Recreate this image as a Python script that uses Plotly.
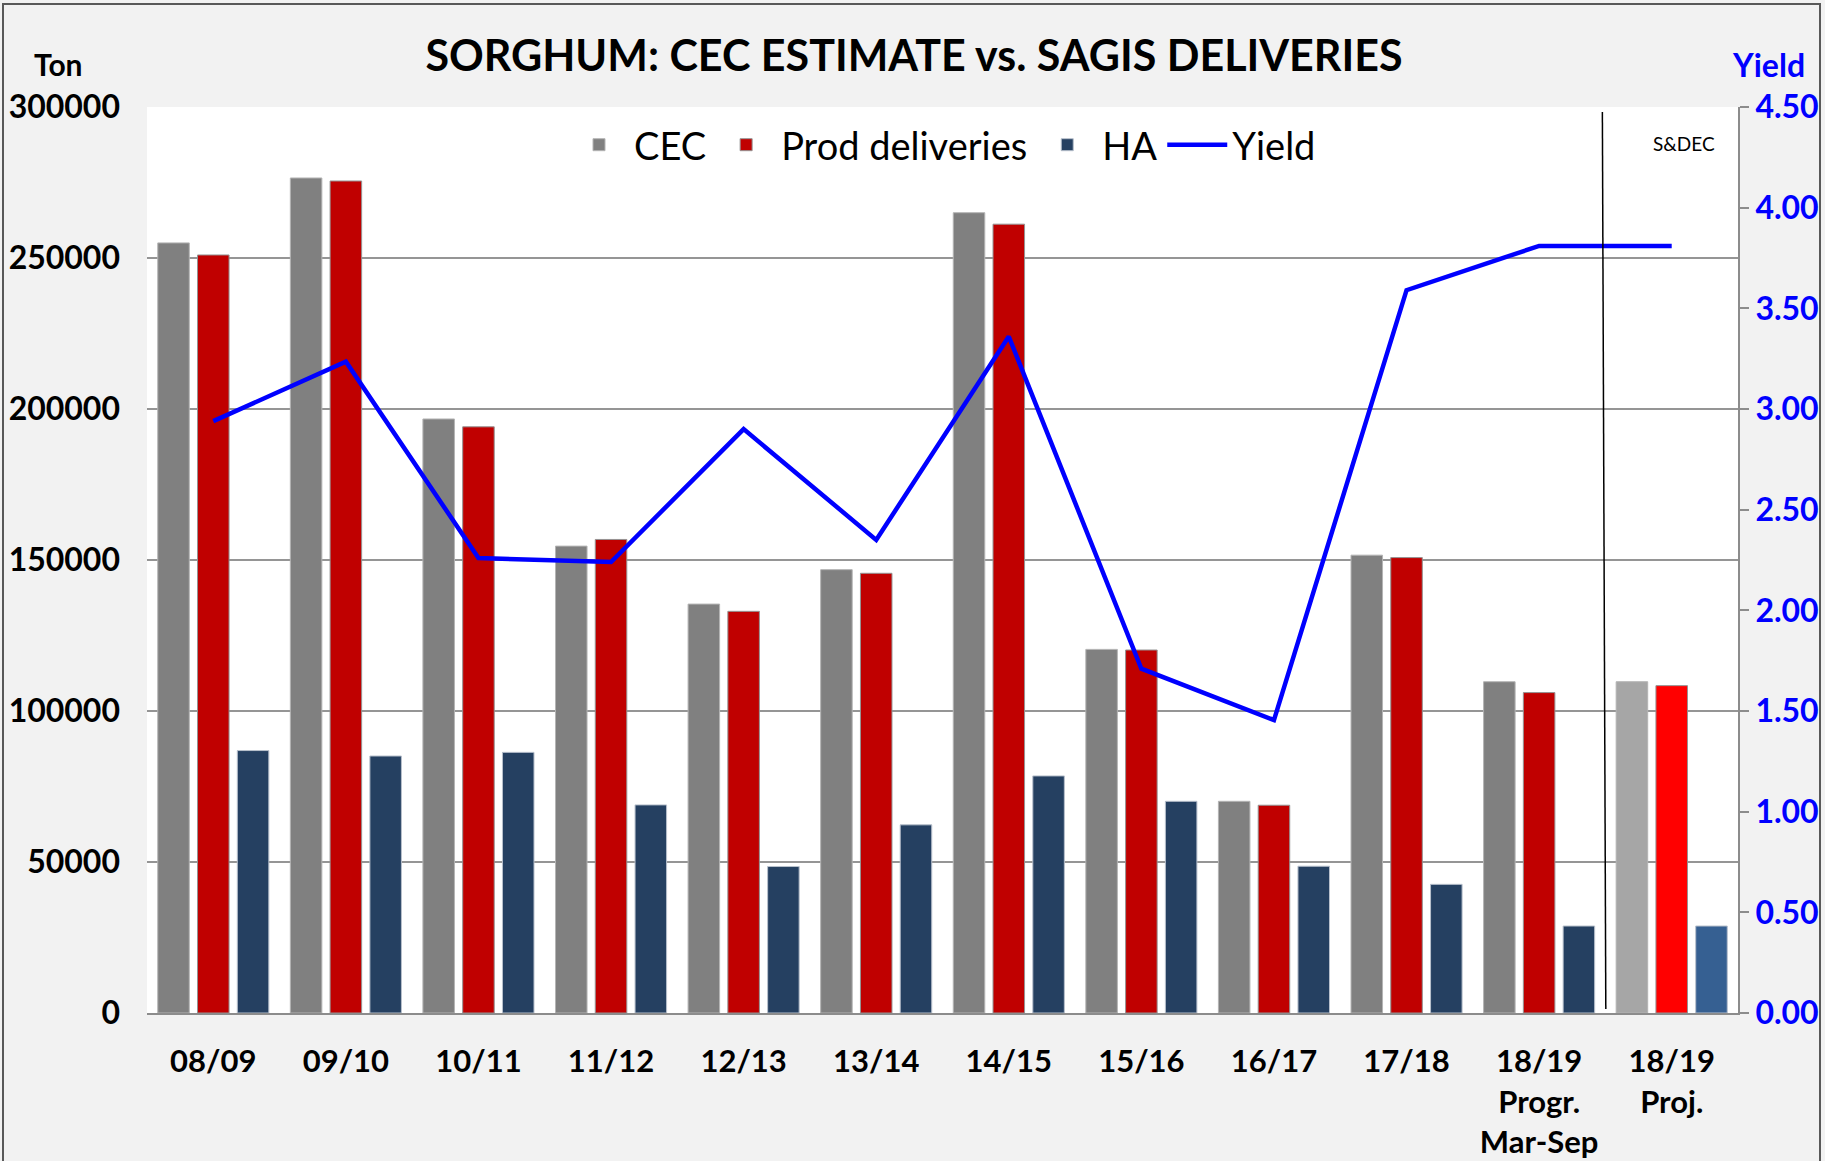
import plotly.graph_objects as go

# ---------------- data ----------------
categories = ["08/09", "09/10", "10/11", "11/12", "12/13", "13/14", "14/15",
              "15/16", "16/17", "17/18", "18/19<br>Progr.<br>Mar-Sep", "18/19<br>Proj."]
cec = [255000, 276500, 196700, 154600, 135400, 146800, 265000,
       120400, 70100, 151600, 109700, 109700]
prod_deliveries = [251000, 275500, 194100, 156800, 133000, 145600, 261200,
                   120200, 68800, 150800, 106100, 108400]
ha = [86900, 85100, 86300, 68900, 48500, 62300, 78500,
      70100, 48600, 42600, 28800, 28800]
yield_vals = [2.94, 3.235, 2.26, 2.24, 2.90, 2.35, 3.36,
              1.71, 1.455, 3.59, 3.81, 3.81]

# ---------------- styles ----------------
FONT = "Lato, 'Open Sans', sans-serif"
n = len(categories)
cec_colors = ["#808080"] * (n - 1) + ["#a6a6a6"]
prod_colors = ["#c00000"] * (n - 1) + ["#ff0000"]
ha_colors = ["#254061"] * (n - 1) + ["#366092"]

fig = go.Figure()
fig.add_trace(go.Bar(name="CEC", x=categories, y=cec,
                     marker=dict(color=cec_colors, line=dict(color="#b4b4b4", width=1))))
fig.add_trace(go.Bar(name="Prod deliveries", x=categories, y=prod_deliveries,
                     marker=dict(color=prod_colors, line=dict(color="#949494", width=1))))
fig.add_trace(go.Bar(name="HA", x=categories, y=ha,
                     marker=dict(color=ha_colors, line=dict(color="#b8c0cc", width=1))))
fig.add_trace(go.Scatter(name="Yield", x=categories, y=yield_vals, yaxis="y2",
                         mode="lines", line=dict(color="#0000ff", width=4.5)))

# plot area in px: x 147..1738, y 107..1013
L, R, T, B = 147, 1738, 107, 1013
W, H = 1825, 1161
pw, ph = R - L, B - T


def px_x(x):
    return (x - L) / pw


def px_y(y):
    return (B - y) / ph


fig.update_layout(
    width=W, height=H,
    autosize=False,
    margin=dict(l=L, r=W - R, t=T, b=H - B, pad=0, autoexpand=False),
    paper_bgcolor="#f2f2f2",
    plot_bgcolor="#ffffff",
    barmode="group",
    bargap=0.10,
    bargroupgap=0.207,
    font=dict(family=FONT, color="#000000"),
    title=dict(text="<b>SORGHUM: CEC ESTIMATE vs. SAGIS DELIVERIES</b>",
               x=914 / W, y=1 - 56 / H, xanchor="center", yanchor="middle",
               font=dict(family=FONT, size=43, color="#000000")),
    xaxis=dict(type="category", showline=True, linecolor="#8c8c8c", linewidth=2,
               ticks="", showgrid=False, automargin=False,
               tickfont=dict(family=FONT, size=31, color="#000000", weight="bold"),
               ticklabelstandoff=20),
    yaxis=dict(range=[0, 300000], dtick=50000, showline=False, ticks="",
               showgrid=True, gridcolor="#959595", gridwidth=2, zeroline=False,
               tickformat="d", automargin=False,
               tickfont=dict(family=FONT, size=32, color="#000000", weight="bold"),
               ticklabelstandoff=26),
    yaxis2=dict(range=[0, 4.5], dtick=0.5, overlaying="y", side="right",
                showline=True, linecolor="#8c8c8c", linewidth=2,
                ticks="outside", ticklen=9, tickwidth=2, tickcolor="#8c8c8c",
                showgrid=False, zeroline=False, tickformat=".2f", automargin=False,
                tickfont=dict(family=FONT, size=32, color="#0000ff", weight="bold"),
                ticklabelstandoff=0),
    legend=dict(orientation="h", x=0.5, xanchor="center", y=px_y(145), yanchor="middle",
                font=dict(family=FONT, size=38, color="#000000"),
                bgcolor="rgba(0,0,0,0)", itemwidth=60, traceorder="normal"),
    showlegend=True,
)

# axis unit labels and note
fig.add_annotation(text="<b>Ton</b>", xref="paper", yref="paper",
                   x=px_x(58), y=px_y(64), xanchor="center", yanchor="middle",
                   showarrow=False, font=dict(family=FONT, size=30, color="#000000"))
fig.add_annotation(text="<b>Yield</b>", xref="paper", yref="paper",
                   x=px_x(1768), y=px_y(64), xanchor="center", yanchor="middle",
                   showarrow=False, font=dict(family=FONT, size=32, color="#0000ff"))
fig.add_annotation(text="S&DEC", xref="paper", yref="paper",
                   x=px_x(1684), y=px_y(143), xanchor="center", yanchor="middle",
                   showarrow=False, font=dict(family=FONT, size=19, color="#000000"))

# separator line between progressive and projected
fig.add_shape(type="line", xref="x", yref="y domain",
              x0=10.477, x1=10.503, y0=px_y(112), y1=px_y(1009),
              line=dict(color="#000000", width=1.5), layer="above")

# outer border
fig.add_shape(type="rect", xref="paper", yref="paper",
              x0=px_x(3), x1=px_x(1820), y0=px_y(1200), y1=px_y(4),
              line=dict(color="#595959", width=2), fillcolor="rgba(0,0,0,0)", layer="above")

fig.write_html("out.html",
               config={"displayModeBar": False},
               post_script="document.body.style.margin='0';document.body.style.padding='0';")
